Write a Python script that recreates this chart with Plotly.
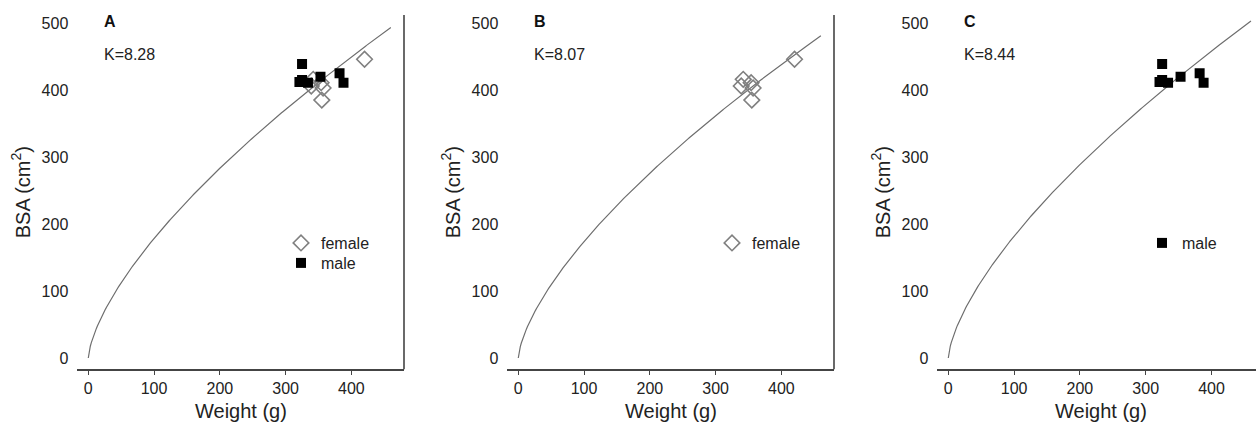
import numpy as np
import plotly.graph_objects as go

# ---- data ----
female_weight = [420, 342, 354, 339, 357, 355]
female_bsa = [446, 416, 411, 406, 403, 385]
male_weight = [325, 325, 334, 321, 353, 382, 388]
male_bsa = [439, 415, 411, 412, 420, 425, 411]
panel_labels = ["A", "B", "C"]
k_values = [8.28, 8.07, 8.44]
x_ticks = [0, 100, 200, 300, 400]
y_ticks = [0, 100, 200, 300, 400, 500]
curve_weight = np.linspace(0, 460, 300)

W, H = 1256, 426
FONT = "Liberation Sans, Arial, sans-serif"
AX = "#444444"
GRAY = "#808080"

fig = go.Figure()

x_domains = [[77.3 / W, 404 / W], [507.3 / W, 834 / W], [937.3 / W, 1.0]]
px_per_unit = 0.658
x_ranges = [[-16.7, 480], [-16.7, 480], [-16.7, -16.7 + (W - 937.3) / px_per_unit]]
y_domain = [1 - 369.3 / H, 1 - 15 / H]
y_range = [-16.9, 512]

panel_series = ["both", "female", "male"]
# legend id per (panel, series)
legend_of = {(0, "female"): "legend", (0, "male"): "legend4",
             (1, "female"): "legend2", (2, "male"): "legend3"}
legend_pos = {"legend": (281, 226), "legend4": (281, 246),
              "legend2": (712, 226), "legend3": (1142, 226)}

for i in range(3):
    xa = "x" if i == 0 else f"x{i+1}"
    ya = "y" if i == 0 else f"y{i+1}"
    k = k_values[i]
    fig.add_trace(go.Scatter(
        x=curve_weight, y=k * curve_weight ** (2 / 3), mode="lines",
        line=dict(color="#6e6e6e", width=1.2), showlegend=False,
        xaxis=xa, yaxis=ya, hoverinfo="skip"))
    if panel_series[i] in ("both", "female"):
        fig.add_trace(go.Scatter(
            x=female_weight, y=female_bsa, mode="markers", name="female",
            marker=dict(symbol="diamond-open", size=12, color=GRAY,
                        line=dict(color=GRAY, width=1.6)),
            xaxis=xa, yaxis=ya, legend=legend_of[(i, "female")]))
    if panel_series[i] in ("both", "male"):
        fig.add_trace(go.Scatter(
            x=male_weight, y=male_bsa, mode="markers", name="male",
            marker=dict(symbol="square", size=10, color="black",
                        line=dict(width=0)),
            xaxis=xa, yaxis=ya, legend=legend_of[(i, "male")]))

layout = dict(
    width=W, height=H, autosize=False,
    margin=dict(l=0, r=0, t=0, b=0),
    paper_bgcolor="white", plot_bgcolor="white",
    font=dict(family=FONT, size=15, color="#222222"),
    annotations=[], shapes=[],
)

for name, (lx, ly) in legend_pos.items():
    layout[name] = dict(
        x=lx / W, y=1 - ly / H, xanchor="left", yanchor="top",
        bgcolor="rgba(0,0,0,0)", borderwidth=0, itemwidth=30,
        font=dict(size=16, color="#222222"), tracegroupgap=0)

for i in range(3):
    suffix = "" if i == 0 else str(i + 1)
    layout["xaxis" + suffix] = dict(
        domain=x_domains[i], range=x_ranges[i], anchor="y" + suffix,
        tickvals=x_ticks, ticks="outside", ticklen=4, tickwidth=1.2, tickcolor=AX,
        showline=True, linecolor=AX, linewidth=1.6, showgrid=False, zeroline=False,
        tickfont=dict(size=16, color="#222222"), fixedrange=True)
    layout["yaxis" + suffix] = dict(
        domain=y_domain, range=y_range, anchor="x" + suffix,
        tickvals=y_ticks, ticks="", showline=False, showgrid=False, zeroline=False,
        ticklabelstandoff=8, tickfont=dict(size=16, color="#222222"), fixedrange=True)
    left_px = x_domains[i][0] * W
    # panel letter and K value
    layout["annotations"].append(dict(
        text=f"<b>{panel_labels[i]}</b>", x=(left_px + 25) / W, y=1 - 22 / H,
        xref="paper", yref="paper", xanchor="left", yanchor="middle",
        showarrow=False, font=dict(size=16, color="#111111")))
    layout["annotations"].append(dict(
        text=f"K={k_values[i]:.2f}", x=(left_px + 25) / W, y=1 - 55 / H,
        xref="paper", yref="paper", xanchor="left", yanchor="middle",
        showarrow=False, font=dict(size=16, color="#222222")))
    # axis titles
    layout["annotations"].append(dict(
        text="Weight (g)", x=(left_px + 163.3) / W, y=1 - 411 / H,
        xref="paper", yref="paper", xanchor="center", yanchor="middle",
        showarrow=False, font=dict(size=20, color="#222222")))
    layout["annotations"].append(dict(
        text="BSA (cm<sup>2</sup>)", x=(left_px - 57) / W, y=1 - 192 / H,
        xref="paper", yref="paper", xanchor="center", yanchor="middle",
        textangle=-90, showarrow=False, font=dict(size=20, color="#222222")))
    if i < 2:
        layout["shapes"].append(dict(
            type="line", xref=f"x{suffix} domain", yref=f"y{suffix} domain",
            x0=1, x1=1, y0=0, y1=1, line=dict(color=AX, width=1.6)))

fig.update_layout(**layout)
fig.write_html("out.html", config={"displayModeBar": False},
               post_script="document.body.style.margin='0px';document.body.style.overflow='hidden';")
